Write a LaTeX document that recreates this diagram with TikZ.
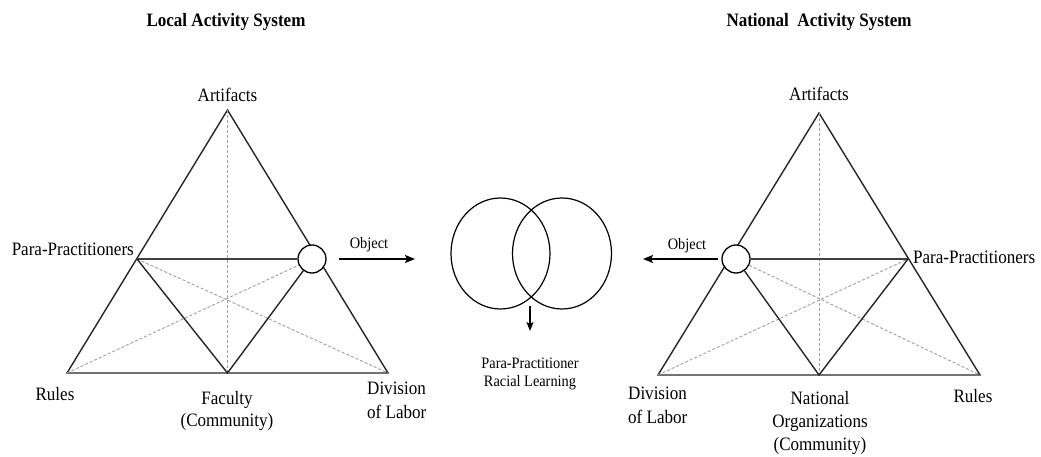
\documentclass[tikz,border=0pt]{standalone}
\usepackage{fontspec}
\setmainfont{Liberation Serif}[FakeStretch=0.9]
\usetikzlibrary{arrows.meta,backgrounds,shapes.geometric}
\begin{document}
\begin{tikzpicture}[x=1bp,y=-1bp,
  side/.style={line width=1.4bp, black!85},
  link/.style={line width=1.2bp, black!75},
  guide/.style={line width=0.9bp, gray!75, dash pattern=on 3bp off 2bp},
  objnode/.style={circle, draw, line width=1.3bp, fill=white, minimum size=28bp, inner sep=0pt},
  venn/.style={draw, ellipse, line width=1.2bp, minimum width=99bp, minimum height=111bp, inner sep=0pt},
  lbl/.style={font=\fontsize{19}{23}\selectfont, align=center, inner sep=0pt},
  lblleft/.style={font=\fontsize{19}{24}\selectfont, align=left, inner sep=0pt},
  small/.style={font=\fontsize{16}{19}\selectfont, align=center, inner sep=0pt},
  heading/.style={font=\fontsize{19}{22}\selectfont\bfseries, inner sep=0pt},
  objarrow/.style={-{Stealth[length=10bp,width=8bp,inset=2bp]}, line width=1.8bp},
  downarrow/.style={-{Stealth[length=9bp,width=7bp,inset=2bp]}, line width=1.4bp}]
\useasboundingbox (0,0) rectangle (1041,457);

% ---------- local activity system ----------
\node[heading, anchor=base] (ltitle) at (226,27) {Local Activity System};
\coordinate (LA) at (227.5,110);
\coordinate (LR) at (67,373);
\coordinate (LD) at (388,373);
\coordinate (LF) at (227.5,373);
\coordinate (LP) at (137,259);
\node[objnode] (LO) at (312,259) {};
\begin{scope}[on background layer]
  \draw[side] (LA) -- (LR) -- (LD) -- cycle;
  \draw[guide] (LA) -- (LF);
  \draw[guide] (LP) -- (LD);
  \draw[guide] (LR) -- (LO);
  \draw[link] (LP) -- (LO);
  \draw[side] (LP) -- (LF) -- (LO);
\end{scope}
\node[lbl, anchor=base] (lart) at (227.5,102) {Artifacts};
\node[lbl, anchor=base east] (lpara) at (134,256) {Para-Practitioners};
\node[lbl, anchor=base] (lrules) at (55,401) {Rules};
\node[lbl, anchor=base, font=\fontsize{19}{22}\selectfont] (lfac) at (227,426) {Faculty\\(Community)};
\node[lblleft, anchor=base west] (ldiv) at (367,418) {Division\\of Labor};
\coordinate (LOa) at (339,259);
\coordinate (LOb) at (415,259);
\draw[objarrow] (LOa) -- (LOb);
\node[small, anchor=base] (lobj) at (369,249) {Object};

% ---------- shared object ----------
\node[venn] (VL) at (500.5,253.5) {};
\node[venn] (VR) at (562,253.5) {};
\coordinate (Va) at (530,306);
\coordinate (Vb) at (530,331);
\draw[downarrow] (Va) -- (Vb);
\node[small, anchor=base] (learn) at (530,387) {Para-Practitioner\\Racial Learning};

% ---------- national activity system ----------
\node[heading, anchor=base] (rtitle) at (819,27) {National\ \ Activity System};
\coordinate (RA) at (819,113);
\coordinate (RD) at (658,375);
\coordinate (RR) at (980,375);
\coordinate (RN) at (819,375);
\coordinate (RP) at (908,259);
\node[objnode] (RO) at (736,259) {};
\begin{scope}[on background layer]
  \draw[side] (RA) -- (RD) -- (RR) -- cycle;
  \draw[guide] (RA) -- (RN);
  \draw[guide] (RO) -- (RR);
  \draw[guide] (RD) -- (RP);
  \draw[link] (RO) -- (RP);
  \draw[side] (RO) -- (RN) -- (RP);
\end{scope}
\node[lbl, anchor=base] (rart) at (819,101) {Artifacts};
\node[lbl, anchor=base west] (rpara) at (913,264) {Para-Practitioners};
\node[lbl, anchor=base] (rrules) at (973,403) {Rules};
\node[lbl, anchor=base] (rnat) at (820,450) {National\\Organizations\\(Community)};
\node[lblleft, anchor=base west] (rdiv) at (628,423) {Division\\of Labor};
\coordinate (ROa) at (718,259);
\coordinate (ROb) at (643,259);
\draw[objarrow] (ROa) -- (ROb);
\node[small, anchor=base] (robj) at (687,250) {Object};
\end{tikzpicture}
\end{document}
